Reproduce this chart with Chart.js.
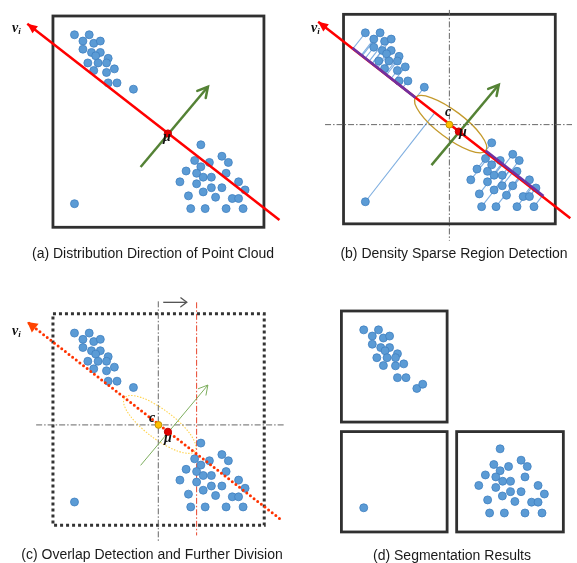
<!DOCTYPE html>
<html><head><meta charset="utf-8">
<script src="https://cdn.jsdelivr.net/npm/chart.js@4.4.1/dist/chart.umd.min.js"></script>
<style>
html,body{margin:0;padding:0;background:#fff;}
#stage{position:relative;width:577px;height:563px;overflow:hidden;background:#fff;}
#stage canvas{position:absolute;left:0;top:0;}
.cap{position:absolute;font:14px "Liberation Sans",Arial,sans-serif;color:#1a1a1a;white-space:nowrap;text-align:center;width:300px;line-height:16px;}
.sym{position:absolute;font:bold italic 14px "Liberation Serif","DejaVu Serif",serif;color:#111;line-height:14px;white-space:nowrap;}
.sym sub{font-size:9px;vertical-align:-2px;}
</style></head>
<body>
<div id="stage">
<canvas id="pa" width="577" height="563"></canvas>
<canvas id="pb" width="577" height="563"></canvas>
<canvas id="pc" width="577" height="563"></canvas>
<canvas id="pd" width="577" height="563"></canvas>
<div class="cap" style="left:3px;top:245px;">(a) Distribution Direction of Point Cloud</div>
<div class="cap" style="left:304px;top:245px;">(b) Density Sparse Region Detection</div>
<div class="cap" style="left:2px;top:546px;">(c) Overlap Detection and Further Division</div>
<div class="cap" style="left:302px;top:547px;">(d) Segmentation Results</div>
<span class="sym" style="left:12px;top:21px;">ν<sub>i</sub></span>
<span class="sym" style="left:163px;top:130px;">μ</span>
<span class="sym" style="left:311px;top:21px;">ν<sub>i</sub></span>
<span class="sym" style="left:459px;top:125px;">μ</span>
<span class="sym" style="left:445px;top:105px;">c</span>
<span class="sym" style="left:12px;top:324px;">ν<sub>i</sub></span>
<span class="sym" style="left:164px;top:431px;">μ</span>
<span class="sym" style="left:149px;top:411px;">c</span>
</div>
<script>
// ---------- data (shared scene coordinates, frame of panel a) ----------
const cloudUpper = [[70.7,30.3],[85.7,30.3],[79.3,36.7],[90.3,39],[97,36.7],[79.3,45],[88,48.3],[97,48.3],[92.3,51.7],[105,54.3],[84.3,59],[94.7,59],[103.3,59],[111.3,65],[90.3,66.7],[103.3,68.7],[105,79.3],[114,79.3],[130.7,85.7]];
const cloudLower = [[199.3,142.3],[193,158.3],[208,160.3],[220.7,154],[227.3,160.3],[199.3,164.7],[184.3,169],[195,171.3],[201.7,175.3],[210,175.3],[225,171.3],[178,180],[195,182],[237.7,180],[210,186],[220.7,186],[201.7,190.3],[244.3,188.3],[186.7,194.3],[214.3,195.7],[231.3,197],[237.7,197],[189,207.3],[203.7,207.3],[225,207.3],[242.3,207.3]];
const cloudNoise = [[70.7,202.3]];
const axisV1 = [[279.3,219],[22.7,19]];          // tail, tip
const normalV2 = [[138,165],[206.5,83.2]];       // tail, tip
const meanMu = [[165.8,130.8]];
const centerC = [[156.2,123.8]];
const sparseAxis = [[121.7,96.3],[193.3,150.3]];
const denseUpper = [[57.5,45.8],[121.7,96.3]];
const denseLower = [[193.3,150.3],[252,196.5]];
const cutVerticalB = [[156.2,7],[156.2,242]];
const cutHorizontalB = [[29.7,123.8],[281,123.8]];
const cutVerticalC = [[156,-2],[156,243]];
const cutHorizontalC = [[31.7,123.8],[285,123.8]];
const shiftLineC = [[195,-1],[195,236.3]];
const shiftArrowC = [[161,-1],[185,-1]];
// panel (d) segmentation results
const segUpper = [[365,330.7],[380,330.7],[373.7,337],[385,339],[391.3,337],[373.7,345.3],[382.3,348.7],[391.3,348.7],[386.7,352],[399.3,355],[397.3,359],[378.3,359],[388.7,359],[385,367],[397.3,367.3],[405.7,365.3],[399.3,379.3],[408,379.3],[419,390.3],[425,386]];
const segNoise = [[365,511.7]];
const segLower = [[503.7,451.7],[497.3,467.7],[525,463.3],[503.7,474],[512.3,469.7],[531.3,469.7],[488.7,478.3],[499.3,480.3],[506.3,484.7],[514.3,484.7],[529,480.3],[482,489],[499.3,491],[542.3,489],[506,499.7],[514.3,495.3],[525,495.3],[548.7,497.7],[491,503.7],[518.7,505.3],[535.7,506],[542.3,506],[493,517],[508,517],[529,517],[546.3,517]];

// ---------- helpers ----------
const W = 577, H = 563;
const xy = arr => arr.map(([x, y]) => ({x, y}));
const allCloud = cloudUpper.concat(cloudLower, cloudNoise);
function pts(data, order) {
  return {data: xy(data), showLine: false, order, pointRadius: 4, pointBackgroundColor: '#5b9bd5', pointBorderColor: '#4080c0', pointBorderWidth: 0.8};
}
function dot(data, fill, stroke, r, order) {
  return {data: xy(data), showLine: false, order, pointRadius: r, pointBackgroundColor: fill, pointBorderColor: stroke, pointBorderWidth: 1};
}
function seg(data, color, width, order, dash, cap) {
  return {data: xy(data), showLine: true, order, borderColor: color, borderWidth: width, borderDash: dash || [], borderCapStyle: cap || 'butt', pointRadius: 0, tension: 0, fill: false};
}

function makeDeco(cfg) {
  return {
    id: 'deco',
    beforeDatasetsDraw(chart) {
      const {ctx} = chart, sx = chart.scales.x, sy = chart.scales.y;
      const X = v => sx.getPixelForValue(v), Y = v => sy.getPixelForValue(v);
      ctx.save();
      (cfg.frames || []).forEach(f => {
        ctx.beginPath();
        ctx.lineWidth = f.width; ctx.strokeStyle = f.color; ctx.setLineDash(f.dash || []);
        ctx.lineJoin = 'miter'; ctx.lineCap = 'butt';
        ctx.strokeRect(X(f.x0), Y(f.y0), X(f.x1) - X(f.x0), Y(f.y1) - Y(f.y0));
      });
      if (cfg.project) {
        const p = cfg.project, a = p.axis[0], b = p.axis[1];
        const dx = b[0] - a[0], dy = b[1] - a[1], L2 = dx * dx + dy * dy;
        ctx.setLineDash([]); ctx.lineWidth = p.width; ctx.strokeStyle = p.color;
        p.points.forEach(q => {
          const t = ((q[0] - a[0]) * dx + (q[1] - a[1]) * dy) / L2;
          ctx.beginPath();
          ctx.moveTo(X(q[0]), Y(q[1]));
          ctx.lineTo(X(a[0] + t * dx), Y(a[1] + t * dy));
          ctx.stroke();
        });
      }
      (cfg.ellipses || []).forEach(e => {
        const x1 = X(e.axis[0][0]), y1 = Y(e.axis[0][1]), x2 = X(e.axis[1][0]), y2 = Y(e.axis[1][1]);
        ctx.beginPath();
        ctx.setLineDash(e.dash || []); ctx.lineWidth = e.width; ctx.strokeStyle = e.color;
        ctx.ellipse((x1 + x2) / 2, (y1 + y2) / 2, Math.hypot(x2 - x1, y2 - y1) / 2, e.minor, Math.atan2(y2 - y1, x2 - x1), 0, Math.PI * 2);
        ctx.stroke();
      });
      ctx.restore();
    },
    afterDatasetsDraw(chart) {
      const {ctx} = chart, sx = chart.scales.x, sy = chart.scales.y;
      const X = v => sx.getPixelForValue(v), Y = v => sy.getPixelForValue(v);
      ctx.save();
      (cfg.arrows || []).forEach(a => {
        const tx = X(a.line[0][0]), ty = Y(a.line[0][1]), hx = X(a.line[1][0]), hy = Y(a.line[1][1]);
        const ang = Math.atan2(hy - ty, hx - tx);
        const bx = hx - a.len * Math.cos(ang), by = hy - a.len * Math.sin(ang);
        const px = -Math.sin(ang), py = Math.cos(ang);
        ctx.beginPath();
        ctx.setLineDash([]);
        ctx.moveTo(bx + a.half * px, by + a.half * py);
        ctx.lineTo(hx, hy);
        ctx.lineTo(bx - a.half * px, by - a.half * py);
        if (a.filled) { ctx.closePath(); ctx.fillStyle = a.color; ctx.fill(); }
        else { ctx.lineWidth = a.width; ctx.strokeStyle = a.color; ctx.lineJoin = 'miter'; ctx.lineCap = 'round'; ctx.stroke(); }
      });
      ctx.restore();
    }
  };
}

function panel(id, off, datasets, cfg) {
  return new Chart(document.getElementById(id), {
    type: 'scatter',
    data: {datasets},
    options: {
      responsive: false, animation: false, events: [],
      layout: {padding: 0},
      scales: {
        x: {type: 'linear', display: false, min: -off[0], max: W - off[0]},
        y: {type: 'linear', display: false, min: -off[1], max: H - off[1], reverse: true}
      },
      plugins: {legend: {display: false}, tooltip: {enabled: false}}
    },
    plugins: [makeDeco(cfg)]
  });
}

const RED = '#ff0000', GREEN = '#548235', GRAY = '#666666';
const DASHDOT = [6, 2, 1.5, 2];

// (a) distribution direction
panel('pa', [0, 0], [
  dot(meanMu, '#e00000', '#c00000', 3.6, 0),
  seg(normalV2, GREEN, 2.5, 2),
  seg(axisV1, RED, 2.5, 4),
  pts(allCloud, 5)
], {
  frames: [{x0: 48.8, y0: 11.2, x1: 263.5, y1: 226.3, width: 2.8, color: '#303030'}],
  arrows: [
    {line: axisV1, filled: true, color: RED, len: 10, half: 4.5},
    {line: normalV2, filled: false, color: GREEN, width: 2.5, len: 10, half: 5.5}
  ]
});

// (b) density sparse region
panel('pb', [296, -2], [
  dot(meanMu, '#e00000', '#c00000', 3.6, 0),
  dot(centerC, '#ffc000', '#bf9000', 3.4, 1),
  seg(normalV2, GREEN, 2.5, 2),
  seg(denseUpper, '#7030a0', 2.6, 3),
  seg(denseLower, '#7030a0', 2.6, 3),
  seg(axisV1, RED, 2.5, 4),
  pts(allCloud, 5),
  seg(cutVerticalB, GRAY, 1, 6, DASHDOT),
  seg(cutHorizontalB, GRAY, 1, 6, DASHDOT)
], {
  frames: [{x0: 48.5, y0: 11.5, x1: 264, y1: 224.8, width: 2.8, color: '#303030'}],
  project: {points: allCloud, axis: axisV1, color: '#7eaee0', width: 1.1},
  ellipses: [{axis: sparseAxis, minor: 13.5, color: '#c49a2c', width: 1.3}],
  arrows: [
    {line: axisV1, filled: true, color: RED, len: 10, half: 4.5},
    {line: normalV2, filled: false, color: GREEN, width: 2.5, len: 10, half: 5.5}
  ]
});

// (c) overlap detection and further division
panel('pc', [0, 303.7], [
  dot(meanMu, '#e00000', '#c00000', 3.6, 0),
  dot(centerC, '#ffc000', '#bf9000', 3.4, 1),
  seg(normalV2, '#7dae5e', 1, 2),
  seg(axisV1, '#ff3300', 3, 4, [0, 4.6], 'round'),
  pts(allCloud, 5),
  seg(cutVerticalC, GRAY, 1, 6, DASHDOT),
  seg(cutHorizontalC, GRAY, 1, 6, DASHDOT),
  seg(shiftLineC, '#e8452c', 1, 6, DASHDOT),
  seg(shiftArrowC, '#555555', 1.3, 6)
], {
  frames: [{x0: 48.8, y0: 10.6, x1: 263.8, y1: 226, width: 3, color: '#333333', dash: [3, 3]}],
  ellipses: [{axis: sparseAxis, minor: 14.5, color: '#ffd34d', width: 1.1, dash: [1.5, 1.5]}],
  arrows: [
    {line: axisV1, filled: true, color: '#ff4400', len: 10, half: 5.5},
    {line: normalV2, filled: false, color: '#7dae5e', width: 1, len: 9, half: 5},
    {line: shiftArrowC, filled: false, color: '#555555', width: 1.3, len: 6, half: 4.5}
  ]
});

// (d) segmentation results
panel('pd', [0, 0], [
  pts(segUpper, 5),
  pts(segNoise, 5),
  pts(segLower, 5)
], {
  frames: [
    {x0: 342.3, y0: 311.5, x1: 449.8, y1: 424.5, width: 2.8, color: '#303030'},
    {x0: 342.3, y0: 434.2, x1: 449.8, y1: 536.3, width: 2.8, color: '#303030'},
    {x0: 459.5, y0: 434.2, x1: 568, y1: 536.3, width: 2.8, color: '#303030'}
  ]
});
</script>
</body></html>
